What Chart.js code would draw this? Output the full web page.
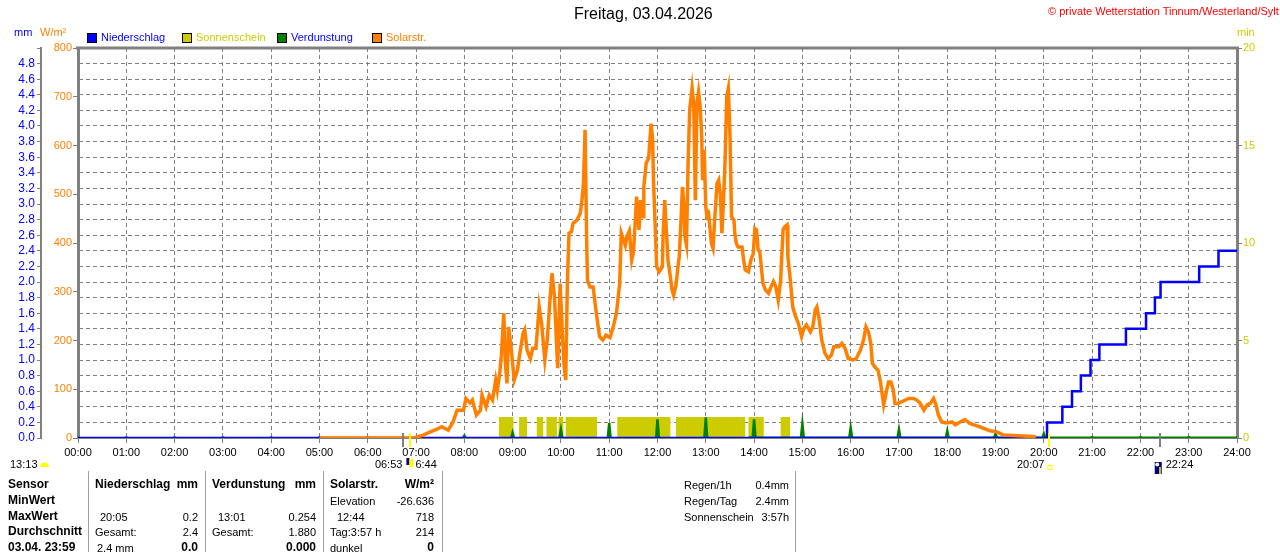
<!DOCTYPE html>
<html><head><meta charset="utf-8">
<script src="https://cdn.jsdelivr.net/npm/chart.js@4/dist/chart.umd.min.js"></script>
<style>
html,body{margin:0;padding:0;background:#fff;width:1280px;height:552px;overflow:hidden;font-family:"Liberation Sans",Arial,sans-serif;}
#wrap{position:relative;width:1280px;height:552px;overflow:hidden;}
canvas{position:absolute;left:0;top:0;}
.t{position:absolute;white-space:nowrap;font-size:11px;line-height:14px;color:#000;}
.b{font-weight:bold;font-size:12px;}
.sq{position:absolute;width:8px;height:8px;border:1px solid #000;top:33px;}
.vl{position:absolute;top:471px;width:1px;height:81px;background:#a0a0a0;}
</style></head>
<body><div id="wrap"><canvas id="c" width="1280" height="552"></canvas></div>
<script>
// ---------- DATA ----------
const hourTicks = [0,1,2,3,4,5,6,7,8,9,10,11,12,13,14,15,16,17,18,19,20,21,22,23,24];

// Solar radiation (W/m²)
const solarTimes = [
 '05:00','06:58','07:01','07:09','07:17','07:26','07:32','07:40','07:46','07:51','07:59',
 '08:02','08:07','08:10','08:15','08:20','08:22','08:27','08:31','08:35','08:39','08:41','08:44','08:46','08:49','08:51','08:53','08:55','08:58',
 '09:02','09:06','09:09','09:13','09:15','09:18','09:22','09:25','09:29','09:33','09:36','09:40','09:43','09:47','09:49','09:52','09:54','09:56','09:59',
 '10:02','10:04','10:06','10:08','10:10','10:13','10:15','10:20','10:24','10:26','10:28','10:30','10:32','10:33','10:36','10:40','10:44','10:48','10:52','10:56',
 '11:01','11:05','11:09','11:13','11:15','11:20','11:22','11:25','11:28','11:30','11:32','11:34','11:37','11:39','11:42','11:43','11:46','11:49','11:52','11:54','11:55','11:57','11:59',
 '12:02','12:06','12:07','12:09','12:11','12:13','12:16','12:18','12:20','12:23','12:25','12:27','12:29','12:31','12:33','12:34','12:36','12:38','12:40','12:43','12:45','12:47','12:49','12:51','12:53','12:55','12:56','12:58',
 '13:00','13:02','13:03','13:05','13:07','13:09','13:11','13:14','13:16','13:18','13:20','13:22','13:24','13:26','13:28','13:30','13:32','13:35','13:36','13:38','13:40','13:45','13:47','13:49','13:53','13:56','13:59',
 '14:01','14:03','14:05','14:07','14:09','14:11','14:14','14:18','14:21','14:24','14:27','14:30','14:33','14:36','14:38','14:41','14:42','14:45','14:48','14:51','14:55','14:59',
 '15:02','15:05','15:10','15:13','15:16','15:18','15:21','15:24','15:28','15:32','15:36','15:39','15:45','15:49','15:53','15:57',
 '16:03','16:07','16:12','16:16','16:19','16:22','16:25','16:27','16:30','16:34','16:37','16:41','16:44','16:47','16:50','16:53','16:55','16:59',
 '17:03','17:08','17:12','17:18','17:22','17:26','17:31','17:35','17:39','17:43','17:46','17:49','17:53','17:59',
 '18:06','18:10','18:16','18:22','18:28','18:37','18:45','18:53',
 '19:01','19:10','19:22','19:34','19:47','19:50'
];
const solarValues = [
 0,0,2,6,12,18,23,16,33,57,57,
 81,72,78,47,57,88,64,88,78,119,98,133,170,256,153,112,228,187,
 119,139,174,215,222,180,163,184,184,269,235,160,201,297,338,290,215,143,317,
 208,146,119,317,420,423,440,447,461,485,522,632,403,324,310,310,256,208,201,211,
 206,228,256,317,420,395,413,425,365,380,433,495,427,488,454,515,564,574,645,611,529,440,351,
 341,351,420,488,427,365,331,304,293,314,345,372,440,515,474,413,396,564,673,718,687,488,687,710,680,615,529,591,
 474,447,468,433,399,389,447,522,529,502,420,488,570,700,717,625,454,447,420,399,392,392,365,345,341,365,379,
 430,427,386,382,351,317,304,297,310,321,310,283,324,427,433,437,372,324,269,252,235,208,
 225,232,218,228,263,269,242,201,174,163,170,187,187,194,184,163,
 160,163,180,201,228,218,194,153,146,139,115,68,92,115,115,98,71,71,
 74,78,81,81,78,72,57,68,71,81,68,47,33,31,
 33,27,33,38,30,25,20,15,
 13,6,5,4,3,2
];

// Precipitation (cumulative mm)
const rainTimes  = ['00:00','20:04','20:23','20:35','20:46','20:58','21:09','21:42','22:07','22:18','22:25','23:13','23:37','24:00'];
const rainValues = [0, 0.2, 0.4, 0.6, 0.8, 1.0, 1.2, 1.4, 1.6, 1.8, 2.0, 2.2, 2.4, 2.4];

// Evaporation (mm per hour)
const evapHours  = [0,1,2,3,4,5,6,7,8,9,10,11,12,13,14,15,16,17,18,19,20,21,22,23];
const evapValues = [0.005,0.005,0.005,0.005,0.005,0.01,0.01,0.01,0.03,0.07,0.11,0.19,0.24,0.265,0.24,0.18,0.13,0.11,0.09,0.055,0.055,0.01,0.01,0.01];
const evapLineTimes  = ['13:53','24:00'];
const evapLineValues = [0, 0];

// Sunshine periods (min per min)
const sunStart = ['08:43','09:08','09:30','09:42','09:57','10:06','11:10','12:23','13:53','14:33'];
const sunEnd   = ['09:01','09:18','09:38','09:55','10:03','10:45','12:16','13:49','14:12','14:45'];
const sunValues = [1.08,1.08,1.08,1.08,1.08,1.08,1.08,1.08,1.08,1.08];

// Sun / moon events
const eventTimes  = ['06:44','06:53','20:07','22:24'];
const eventColors = ['#808080','#ffff00','#ffff00','#808080'];

// ---------- HELPERS ----------
function hrs(s){ const p=s.split(':'); return (+p[0]) + (+p[1])/60; }
const pad2 = v => String(v).padStart(2,'0');

const solarData = solarTimes.map((t,i)=>({x:hrs(t), y:solarValues[i]}));
const rainData  = rainTimes.map((t,i)=>({x:hrs(t), y:rainValues[i]}));
const evapData = [];
evapHours.forEach((h,i)=>{
  evapData.push({x:h-0.03,y:0},{x:h,y:evapValues[i]},{x:h+0.03,y:0},{x:h+0.035,y:null});
});
const evapLine = evapLineTimes.map((t,i)=>({x:hrs(t), y:evapLineValues[i]}));
const sunData = [];
sunStart.forEach((s,i)=>{
  const a=hrs(s), b=hrs(sunEnd[i]);
  sunData.push({x:a,y:0},{x:a,y:sunValues[i]},{x:b,y:sunValues[i]},{x:b,y:0});
});

// ---------- HTML TEXT ----------
const wrap = document.getElementById('wrap');
function txt(s, x, top, o){
  o = o || {};
  const d = document.createElement('div');
  d.className = 't' + (o.b ? ' b' : '');
  d.textContent = s;
  if (o.right) d.style.right = (1280 - x) + 'px'; else d.style.left = x + 'px';
  d.style.top = top + 'px';
  if (o.c) d.style.color = o.c;
  if (o.fs) { d.style.fontSize = o.fs + 'px'; d.style.lineHeight = (o.fs+4)+'px'; }
  wrap.appendChild(d);
}
function sq(x, color){
  const d=document.createElement('div'); d.className='sq'; d.style.left=x+'px'; d.style.background=color; wrap.appendChild(d);
}
txt('Freitag, 03.04.2026', 574, 4, {fs:16, c:'#000'});
txt('\u00a9 private Wetterstation Tinnum/Westerland/Sylt', 1048, 4, {c:'#ff0000'});
txt('mm', 14, 25, {c:'#0000ff'});
txt('W/m\u00b2', 40, 25, {c:'#ff8000'});
txt('min', 1237, 25, {c:'#cccc00'});
sq(87,'#0000ff');  txt('Niederschlag', 101, 30, {c:'#0000ff'});
sq(182,'#cccc00'); txt('Sonnenschein', 196, 30, {c:'#cccc00'});
sq(277,'#008000'); txt('Verdunstung', 291, 30, {c:'#0000ff'});
sq(372,'#ff8000'); txt('Solarstr.', 386, 30, {c:'#ff8000'});

[88,205,323,442,795].forEach(x=>{ const d=document.createElement('div'); d.className='vl'; d.style.left=x+'px'; wrap.appendChild(d); });
const rowsY = [478,494,510,525,541];
const cells = [
 [0,'Sensor',8,0,1],[0,'Niederschlag',95,0,1],[0,'mm',198,1,1],[0,'Verdunstung',212,0,1],[0,'mm',316,1,1],[0,'Solarstr.',330,0,1],[0,'W/m\u00b2',434,1,1],
 [1,'MinWert',8,0,1],[1,'Elevation',330,0,0],[1,'-26.636',434,1,0],
 [2,'MaxWert',8,0,1],[2,'20:05',100,0,0],[2,'0.2',198,1,0],[2,'13:01',218,0,0],[2,'0.254',316,1,0],[2,'12:44',337,0,0],[2,'718',434,1,0],
 [3,'Durchschnitt',8,0,1],[3,'Gesamt:',95,0,0],[3,'2.4',198,1,0],[3,'Gesamt:',212,0,0],[3,'1.880',316,1,0],[3,'Tag:3:57 h',330,0,0],[3,'214',434,1,0],
 [4,'03.04. 23:59',8,0,1],[4,'2.4 mm',97,0,0],[4,'0.0',198,1,1],[4,'0.000',316,1,1],[4,'dunkel',330,0,0],[4,'0',434,1,1],
 [0,'Regen/1h',684,0,0],[0,'0.4mm',789,1,0],[1,'Regen/Tag',684,0,0],[1,'2.4mm',789,1,0],[2,'Sonnenschein',684,0,0],[2,'3:57h',789,1,0]
];
cells.forEach(c=>txt(c[1], c[2], rowsY[c[0]] + (c[4]?-1:0), {right:!!c[3], b:!!c[4]}));

// ---------- CHART ----------
Chart.defaults.font.family = '"Liberation Sans", Arial, sans-serif';
Chart.defaults.font.size = 11;
Chart.defaults.color = '#000';

const GRID = '#808080';
const decor = {
  id:'decor',
  afterDatasetsDraw(chart){
    const ctx=chart.ctx, xs=chart.scales.x, a=chart.chartArea;
    ctx.save();
    eventTimes.forEach((t,i)=>{
      const px=Math.round(xs.getPixelForValue(hrs(t)));
      ctx.fillStyle=eventColors[i];
      ctx.fillRect(px-1, a.bottom-5, 2, 14);
    });
    ctx.restore();
  },
  afterDraw(chart){
    const ctx=chart.ctx, xs=chart.scales.x, a=chart.chartArea;
    ctx.save();
    ctx.strokeStyle=GRID; ctx.lineWidth=3;
    ctx.beginPath(); ctx.moveTo(a.left-2, a.top); ctx.lineTo(a.right+2, a.top); ctx.stroke();
    ctx.font='11px "Liberation Sans", Arial, sans-serif';
    ctx.textBaseline='alphabetic';
    ctx.fillStyle='#000';
    const yb = 468;
    ctx.textAlign='left'; ctx.fillText('13:13', 10, yb);
    ctx.fillStyle='#ffff00'; ctx.beginPath(); ctx.arc(44.5, 467, 4.5, Math.PI, 0); ctx.fill();
    const pr = xs.getPixelForValue(hrs(eventTimes[1]));
    ctx.fillStyle='#000'; ctx.textAlign='right'; ctx.fillText('06:53', pr-8, yb);
    ctx.textAlign='left'; ctx.fillText('6:44', pr+5, yb);
    ctx.fillStyle='#000080'; ctx.fillRect(pr-4, 458, 3, 7);
    ctx.fillStyle='#ffff00'; ctx.fillRect(pr-1, 459, 4, 8);
    const ps = xs.getPixelForValue(hrs(eventTimes[2]));
    ctx.fillStyle='#000'; ctx.textAlign='right'; ctx.fillText('20:07', ps-5, yb);
    ctx.strokeStyle='#ffff00'; ctx.lineWidth=1; ctx.strokeRect(ps-1.5, 465.5, 4, 4);
    const pm = xs.getPixelForValue(hrs(eventTimes[3]));
    ctx.fillStyle='#000080'; ctx.fillRect(pm-5, 462, 7, 12);
    ctx.fillStyle='#ffffff'; ctx.beginPath(); ctx.arc(pm-2.5, 464.5, 2, 0, Math.PI*2); ctx.fill();
    ctx.fillStyle='#ffff00'; ctx.fillRect(pm-0.5, 467, 1.5, 7);
    ctx.fillStyle='#000'; ctx.textAlign='left'; ctx.fillText('22:24', pm+6, yb);
    ctx.restore();
  }
};

new Chart(document.getElementById('c'), {
  type:'line',
  data:{ datasets:[
    {label:'Solarstr.', data:solarData, yAxisID:'yW', borderColor:'#ff8000', borderWidth:3.5, pointRadius:0, tension:0, order:0},
    {label:'Niederschlag', data:rainData, yAxisID:'yMm', borderColor:'#0000ff', borderWidth:2.5, pointRadius:0, stepped:true, order:1},
    {label:'Verdunstung', data:evapData, yAxisID:'yMm', borderColor:'#008000', borderWidth:2.5, pointRadius:0, spanGaps:false, order:2},
    {label:'Verdunstung0', data:evapLine, yAxisID:'yMm', borderColor:'#008000', borderWidth:3, pointRadius:0, order:3},
    {label:'Sonnenschein', data:sunData, yAxisID:'yMin', borderColor:'rgba(0,0,0,0)', borderWidth:0, backgroundColor:'#cccc00', fill:'origin', pointRadius:0, order:4}
  ]},
  options:{
    responsive:false, animation:false, devicePixelRatio:1,
    layout:{padding:{left:0,right:0,top:48,bottom:92}},
    plugins:{legend:{display:false}, title:{display:false}, tooltip:{enabled:false}},
    scales:{
      x:{type:'linear', position:'bottom', min:0, max:24,
         afterBuildTicks(s){ s.ticks = hourTicks.map(v=>({value:v})); },
         ticks:{stepSize:1, autoSkip:false, maxRotation:0, padding:3, color:'#000', font:{size:11},
                callback:v=>pad2(v)+':00'},
         grid:{color:GRID, lineWidth:1, tickLength:5, tickColor:GRID, tickWidth:1},
         border:{display:true, color:GRID, width:2, dash:[4,3]},
         afterFit(s){ s.height = 22; }},
      yW:{type:'linear', position:'left', weight:0, min:0, max:800,
         ticks:{stepSize:100, autoSkip:false, color:'#ff8000', padding:1, font:{size:11}},
         grid:{drawOnChartArea:false, tickLength:5, tickColor:GRID},
         border:{color:GRID, width:3},
         afterFit(s){ s.width = 37; }},
      yMm:{type:'linear', position:'left', weight:10, min:0, max:5,
         ticks:{stepSize:0.2, autoSkip:false, color:'#0000ff', padding:2, font:{size:12},
                callback:v=> v>4.9 ? '' : Number(v).toFixed(1)},
         grid:{drawOnChartArea:true, color:GRID, lineWidth:1, tickLength:4, tickColor:GRID},
         border:{color:GRID, width:2, dash:[4,3]},
         afterFit(s){ s.width = 41; }},
      yMin:{type:'linear', position:'right', min:0, max:20,
         ticks:{stepSize:5, autoSkip:false, color:'#cccc00', padding:1, font:{size:11}},
         grid:{drawOnChartArea:false, tickLength:5, tickColor:GRID},
         border:{color:GRID, width:3},
         afterFit(s){ s.width = 43; }}
    }
  },
  plugins:[decor]
});
</script>
</body></html>
